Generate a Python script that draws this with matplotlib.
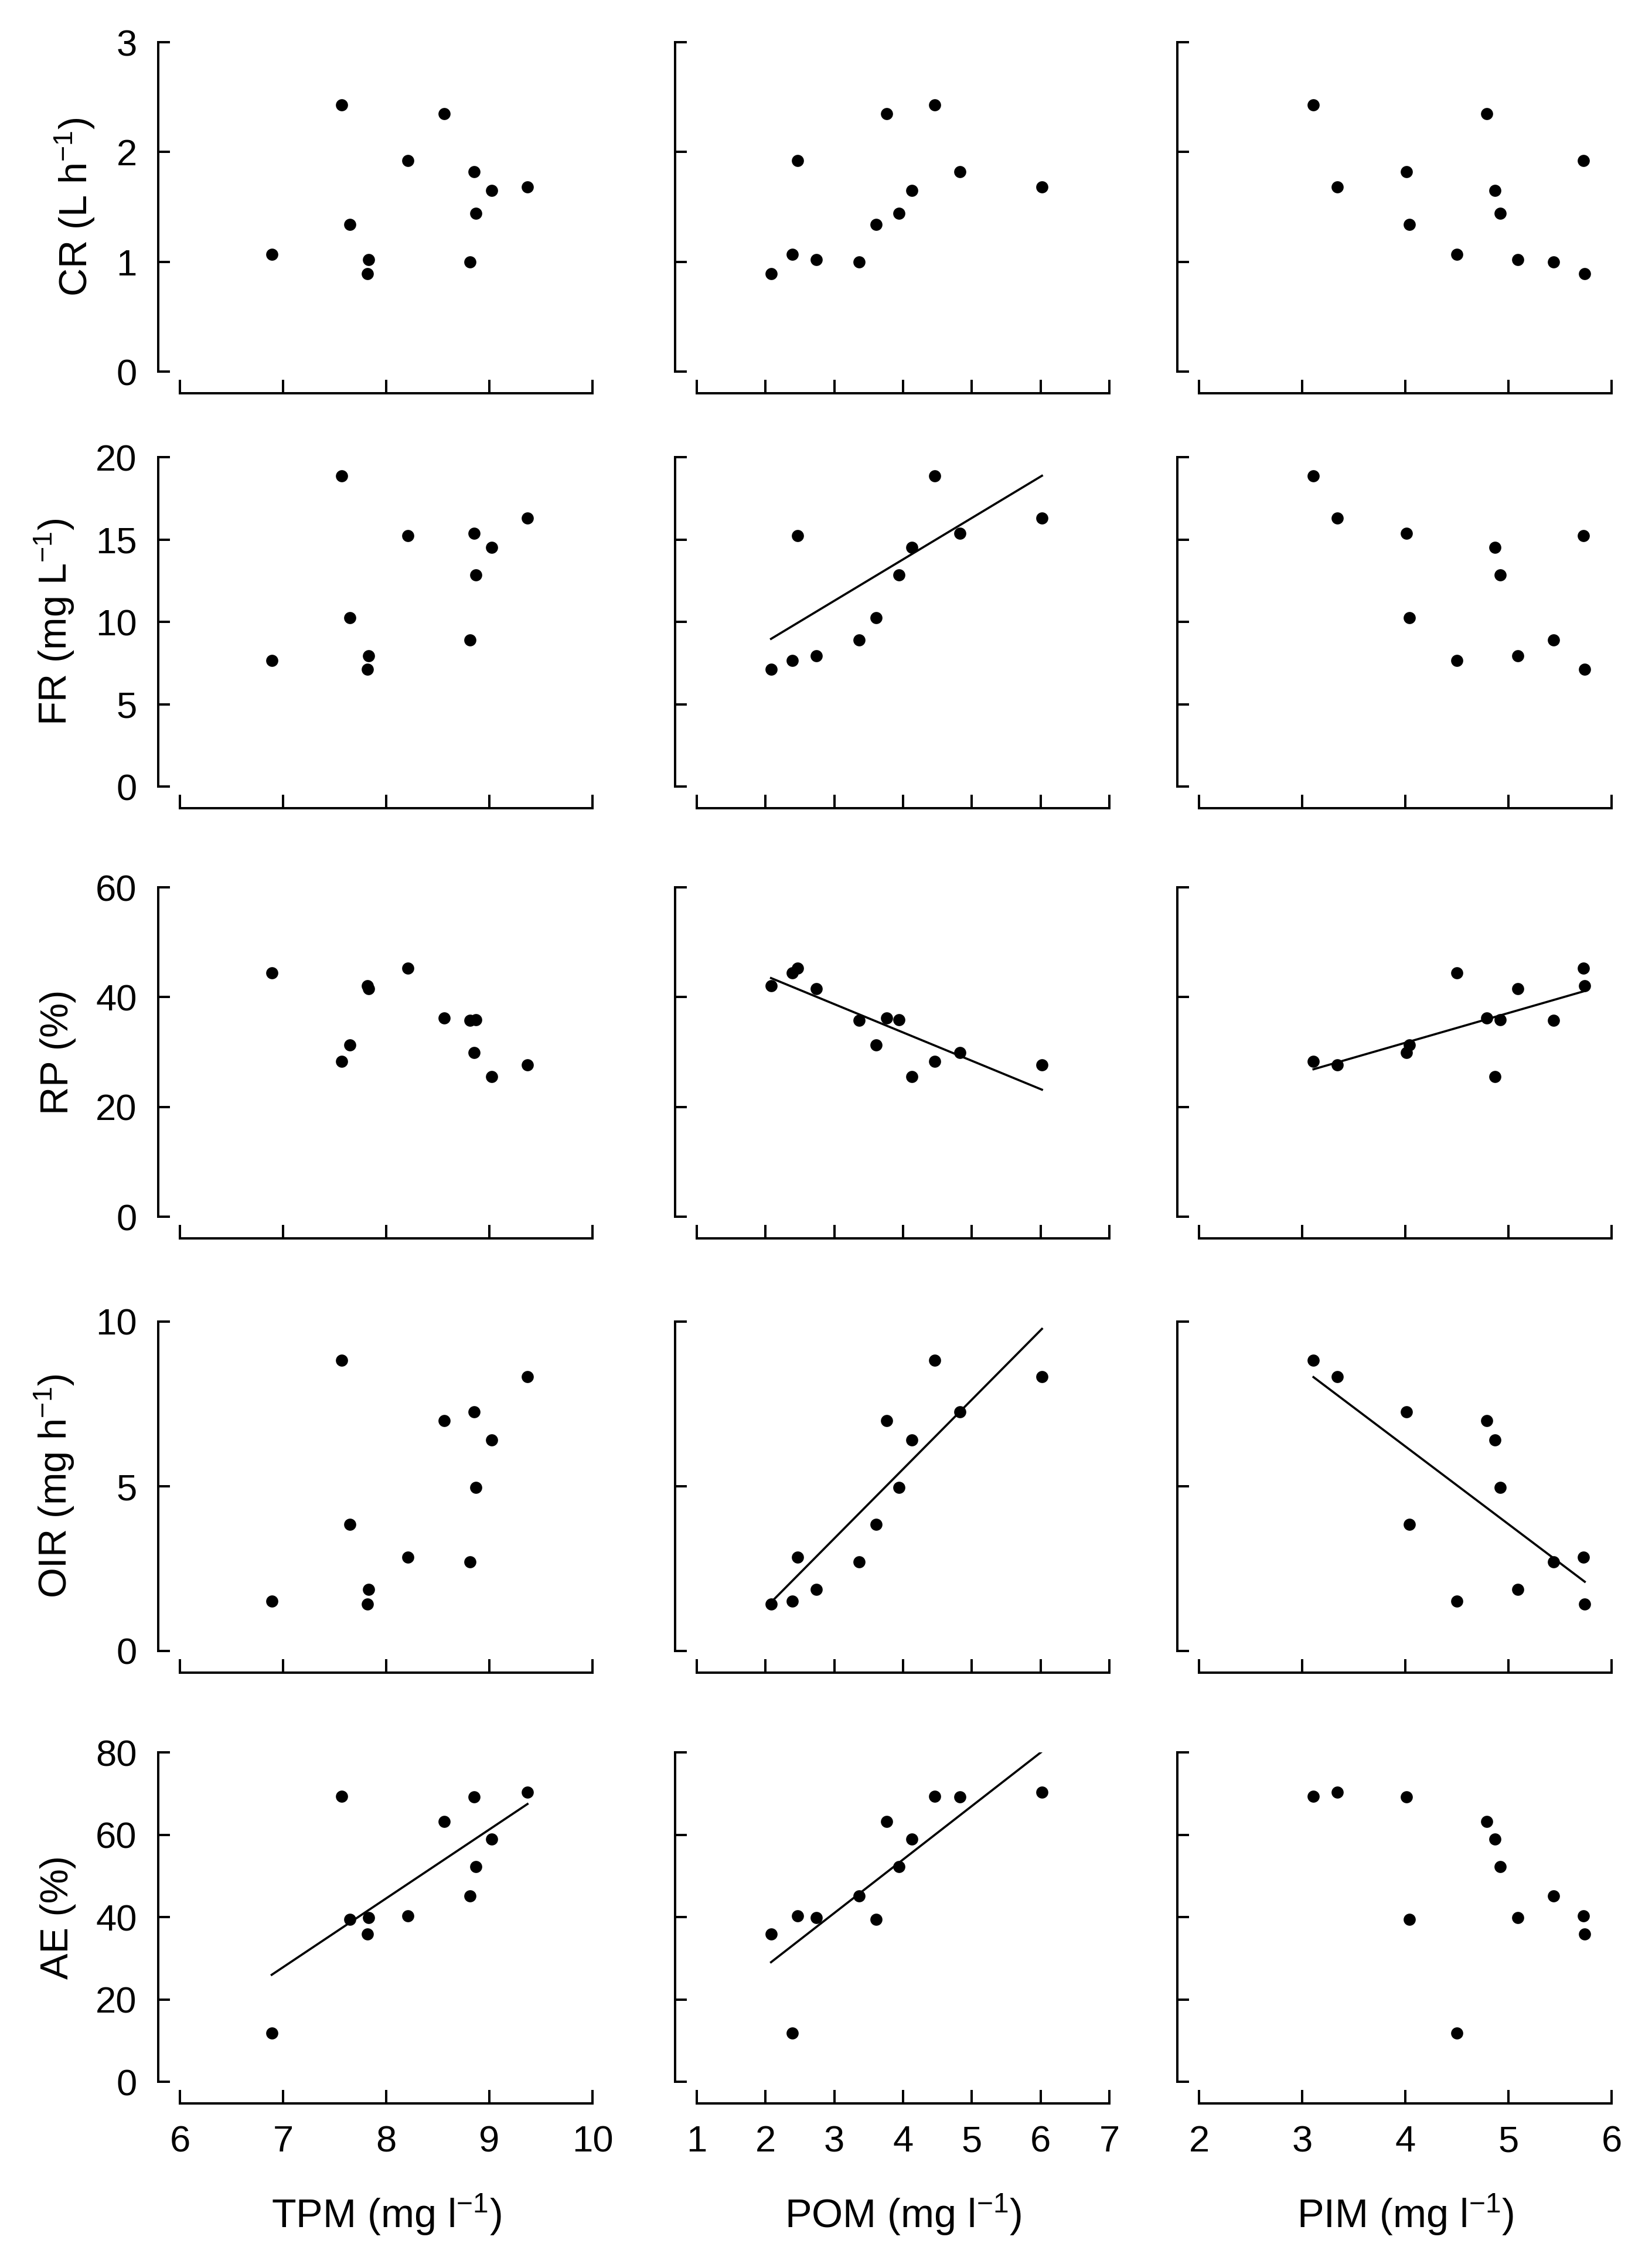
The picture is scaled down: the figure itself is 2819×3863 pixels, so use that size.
import numpy as np
import matplotlib
matplotlib.use("Agg")
import matplotlib.pyplot as plt

plt.rcParams['font.family'] = ['Liberation Sans', 'DejaVu Sans']
plt.rcParams['mathtext.fontset'] = 'custom'
plt.rcParams['mathtext.rm'] = 'Liberation Sans'
plt.rcParams['mathtext.default'] = 'regular'

# particle concentrations for the 12 observations (mg l-1)
tpm = [6.89, 7.57, 7.65, 7.83, 7.82, 8.21, 8.56, 8.85, 9.02, 9.37, 8.87, 8.81]
pom = [2.39, 4.46, 3.61, 2.74, 2.08, 2.47, 3.76, 4.83, 4.13, 6.02, 3.94, 3.36]
pim = [4.50, 3.11, 4.04, 5.09, 5.74, 5.73, 4.79, 4.01, 4.87, 3.34, 4.92, 5.44]

# responses
cr = [1.07, 2.43, 1.34, 1.02, 0.89, 1.92, 2.35, 1.82, 1.65, 1.68, 1.44, 1.00]
fr = [7.65, 18.87, 10.26, 7.93, 7.12, 15.22, np.nan, 15.38, 14.52, 16.29, 12.83, 8.89]
rp = [44.4, 28.3, 31.3, 41.5, 42.1, 45.3, 36.2, 29.9, 25.5, 27.6, 35.9, 35.8]
oir = [1.52, 8.83, 3.85, 1.86, 1.42, 2.84, 7.00, 7.26, 6.40, 8.33, 4.96, 2.71]
ae = [11.75, 69.3, 39.4, 39.9, 35.9, 40.35, 63.2, 69.2, 58.9, 70.35, 52.3, 45.1]

x_names = ['TPM', 'POM', 'PIM']
x_data = [tpm, pom, pim]
x_lims = [(6, 10), (1, 7), (2, 6)]
x_ticks = [[6, 7, 8, 9, 10], [1, 2, 3, 4, 5, 6, 7], [2, 3, 4, 5, 6]]

y_data = [cr, fr, rp, oir, ae]
y_labels = [r'CR (L h$^{-1}$)', r'FR (mg L$^{-1}$)', 'RP (%)',
            r'OIR (mg h$^{-1}$)', 'AE (%)']
y_lims = [(0, 3), (0, 20), (0, 60), (0, 10), (0, 80)]
y_ticks = [[0, 1, 2, 3], [0, 5, 10, 15, 20], [0, 20, 40, 60], [0, 5, 10],
           [0, 20, 40, 60, 80]]

# significant regressions (row, col): (slope, intercept)
fits = {
    (1, 1): (2.514, 3.736),
    (2, 1): (-5.16, 54.2),
    (2, 2): (5.42, 10.0),
    (3, 1): (2.107, -2.905),
    (3, 2): (-2.362, 15.66),
    (4, 0): (16.73, -89.3),
    (4, 1): (12.99, 2.01),
}

W, H = 2819, 3863
fig = plt.figure(figsize=(W / 240, H / 240), dpi=240)

lefts = [307 / W, 1189 / W, 2046 / W]
bottoms = [1 - 634 / H, 1 - 1342 / H, 1 - 2076 / H, 1 - 2817 / H, 1 - 3552 / H]
aw = 704 / W
ah = 562 / H

for r in range(5):
    for c in range(3):
        ax = fig.add_axes([lefts[c], bottoms[r], aw, ah])
        x = np.array(x_data[c])
        y = np.array(y_data[r])
        ax.plot(x, y, 'o', color='black', markersize=6.2, mew=0)
        if (r, c) in fits:
            m, b = fits[(r, c)]
            ok = ~np.isnan(y)
            xs = np.array([x[ok].min(), x[ok].max()])
            ax.plot(xs, m * xs + b, color='black', lw=1.1)

        ax.set_xlim(x_lims[c])
        ax.set_ylim(y_lims[r])
        ax.set_xticks(x_ticks[c])
        ax.set_yticks(y_ticks[r])
        for s in ['top', 'right']:
            ax.spines[s].set_visible(False)
        for s in ['left', 'bottom']:
            ax.spines[s].set_position(('outward', 11))
            ax.spines[s].set_linewidth(1.2)
        ax.tick_params(axis='x', direction='in', length=7, width=1.2,
                       labelsize=19, pad=11)
        ax.tick_params(axis='y', direction='in', length=6, width=1.2,
                       labelsize=19, pad=11)

        if c == 0:
            ax.set_ylabel(y_labels[r], fontsize=20, labelpad=10)
        else:
            ax.set_yticklabels([])
        if r == 4:
            ax.set_xlabel(x_names[c] + r' (mg l$^{-1}$)', fontsize=20.5,
                          labelpad=17)
        else:
            ax.set_xticklabels([])

fig.savefig('out.png', dpi=240)
